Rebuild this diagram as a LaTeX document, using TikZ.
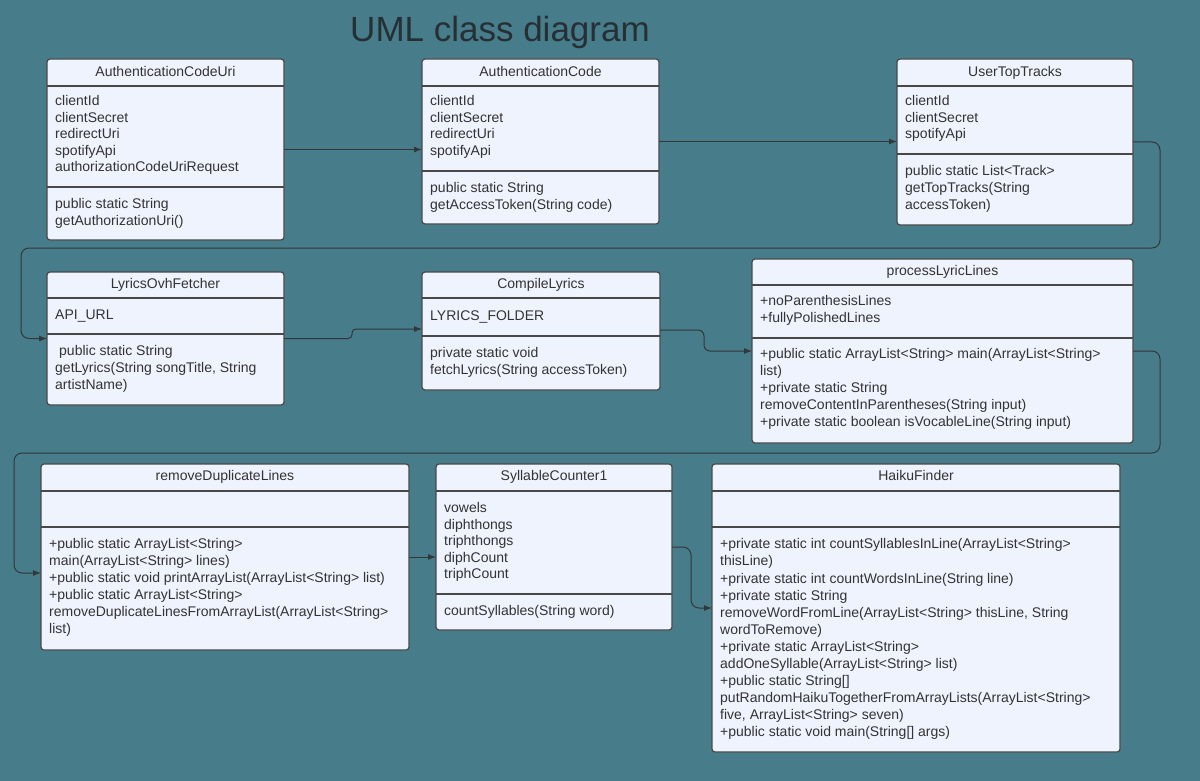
\documentclass[tikz,border=0pt]{standalone}
\usepackage{fontspec}
\setmainfont{Liberation Sans}
\usetikzlibrary{arrows.meta}
\definecolor{bgc}{RGB}{71,124,138}
\definecolor{boxc}{RGB}{238,243,253}
\definecolor{bordc}{RGB}{72,72,72}
\definecolor{txtc}{RGB}{51,51,51}
\definecolor{titc}{RGB}{38,48,52}
\definecolor{linec}{RGB}{50,55,58}
\begin{document}
\begin{tikzpicture}[x=1pt,y=-1pt,
  cls/.style={draw=bordc, fill=boxc, line width=1.2pt, rounded corners=3pt, anchor=north west, inner sep=0pt, outer sep=0pt},
  div/.style={draw=bordc, line width=1.2pt},
  hdr/.style={anchor=base, inner sep=0pt, font=\fontsize{14}{17}\selectfont, text=txtc},
  txt/.style={anchor=north west, inner sep=0pt, align=left, font=\fontsize{14}{17}\selectfont, text=txtc, execute at begin node={\rule{0pt}{10.5pt}}},
  conn/.style={draw=linec, line width=1pt, rounded corners=8pt, -{Latex[length=8pt,width=6pt]}}]
\useasboundingbox (0,0) rectangle (1200,781);
\fill[bgc] (0,0) rectangle (1200,781);

\node[anchor=base, inner sep=0pt, font=\fontsize{35}{40}\selectfont, text=titc] (title) at (500,42) {UML class diagram};

% AuthenticationCodeUri
\node[cls, minimum width=237pt, minimum height=181pt] (acu) at (47,59) {};
\draw[div] (47,86) -- (284,86) (47,187) -- (284,187);
\node[hdr] (acuh) at (165.5,76.5) {AuthenticationCodeUri};
\node[txt, font=\fontsize{14}{16.5}\selectfont] (acua) at (55,95.5) {clientId\\clientSecret\\redirectUri\\spotifyApi\\authorizationCodeUriRequest};
\node[txt, font=\fontsize{14}{16.5}\selectfont] (acum) at (55,198.5) {public static String\\getAuthorizationUri()};

% AuthenticationCode
\node[cls, minimum width=237pt, minimum height=165pt] (ac) at (422,59) {};
\draw[div] (422,86) -- (659,86) (422,171) -- (659,171);
\node[hdr] (ach) at (540.5,76.5) {AuthenticationCode};
\node[txt, font=\fontsize{14}{16.5}\selectfont] (aca) at (430,95.5) {clientId\\clientSecret\\redirectUri\\spotifyApi};
\node[txt, font=\fontsize{14}{16.5}\selectfont] (acm) at (430,182.5) {public static String\\getAccessToken(String code)};

% UserTopTracks
\node[cls, minimum width=236pt, minimum height=166pt] (utt) at (897,59) {};
\draw[div] (897,86) -- (1133,86) (897,154) -- (1133,154);
\node[hdr] (utth) at (1015,76.5) {UserTopTracks};
\node[txt, font=\fontsize{14}{16.5}\selectfont] (utta) at (905,95.5) {clientId\\clientSecret\\spotifyApi};
\node[txt] (uttm) at (905,165.5) {public static List<Track>\\getTopTracks(String\\accessToken)};

% LyricsOvhFetcher
\node[cls, minimum width=237pt, minimum height=133pt] (lof) at (47,272) {};
\draw[div] (47,298) -- (284,298) (47,334) -- (284,334);
\node[hdr] (lofh) at (165.5,288.5) {LyricsOvhFetcher};
\node[txt] (lofa) at (55,308.5) {API\_URL};
\node[txt] (lofm) at (55,345.5) {\hspace{4pt}public static String\\getLyrics(String songTitle, String\\artistName)};

% CompileLyrics
\node[cls, minimum width=238pt, minimum height=118pt] (cl) at (422,272) {};
\draw[div] (422,298) -- (660,298) (422,336) -- (660,336);
\node[hdr] (clh) at (541,288.5) {CompileLyrics};
\node[txt] (cla) at (430,309.5) {LYRICS\_FOLDER};
\node[txt] (clm) at (430,347.5) {private static void\\fetchLyrics(String accessToken)};

% processLyricLines
\node[cls, minimum width=381pt, minimum height=184pt] (pll) at (752,259) {};
\draw[div] (752,285) -- (1133,285) (752,338) -- (1133,338);
\node[hdr] (pllh) at (942.5,275.5) {processLyricLines};
\node[txt] (plla) at (760,295.5) {+noParenthesisLines\\+fullyPolishedLines};
\node[txt] (pllm) at (760,348.5) {+public static ArrayList<String> main(ArrayList<String>\\list)\\+private static String\\removeContentInParentheses(String input)\\+private static boolean isVocableLine(String input)};

% removeDuplicateLines
\node[cls, minimum width=368pt, minimum height=186pt] (rdl) at (41,464) {};
\draw[div] (41,491) -- (409,491) (41,527) -- (409,527);
\node[hdr] (rdlh) at (225,480.5) {removeDuplicateLines};
\node[txt] (rdlm) at (49,538.5) {+public static ArrayList<String>\\main(ArrayList<String> lines)\\+public static void printArrayList(ArrayList<String> list)\\+public static ArrayList<String>\\removeDuplicateLinesFromArrayList(ArrayList<String>\\list)};

% SyllableCounter1
\node[cls, minimum width=236pt, minimum height=166pt] (sc) at (436,464) {};
\draw[div] (436,491) -- (672,491) (436,594) -- (672,594);
\node[hdr] (sch) at (554,480.5) {SyllableCounter1};
\node[txt, font=\fontsize{14}{16.4}\selectfont] (sca) at (444,502.5) {vowels\\diphthongs\\triphthongs\\diphCount\\triphCount};
\node[txt] (scm) at (444,604.5) {countSyllables(String word)};

% HaikuFinder
\node[cls, minimum width=408pt, minimum height=288pt] (hf) at (712,464) {};
\draw[div] (712,491) -- (1120,491) (712,527) -- (1120,527);
\node[hdr] (hfh) at (916,480.5) {HaikuFinder};
\node[txt, font=\fontsize{14}{17.1}\selectfont] (hfm) at (720,538.5) {+private static int countSyllablesInLine(ArrayList<String>\\thisLine)\\+private static int countWordsInLine(String line)\\+private static String\\removeWordFromLine(ArrayList<String> thisLine, String\\wordToRemove)\\+private static ArrayList<String>\\addOneSyllable(ArrayList<String> list)\\+public static String[]\\putRandomHaikuTogetherFromArrayLists(ArrayList<String>\\five, ArrayList<String> seven)\\+public static void main(String[] args)};

% connectors
\draw[conn] (acu.east) -- (acu.east -| ac.west);
\draw[conn] (ac.east) -- (ac.east -| utt.west);
\draw[conn] (utt.east) -- (1160,142) -- (1160,248) -- (21,248) -- (21,338.5) -- (lof.west);
\draw[conn, rounded corners=4pt] (lof.east) -- (352,338.5) -- (352,329) -- ([yshift=2pt]cl.west);
\draw[conn, rounded corners=6pt] ([yshift=1pt]cl.east) -- (704,330) -- (704,351) -- (pll.west);
\draw[conn] (pll.east) -- (1160,351) -- (1160,453) -- (14,453) -- (14,573) -- ([yshift=-16pt]rdl.west);
\draw[conn] (rdl.east) -- (rdl.east -| sc.west);
\draw[conn] (sc.east) -- (691,547) -- (691,608) -- (hf.west);
\end{tikzpicture}
\end{document}
